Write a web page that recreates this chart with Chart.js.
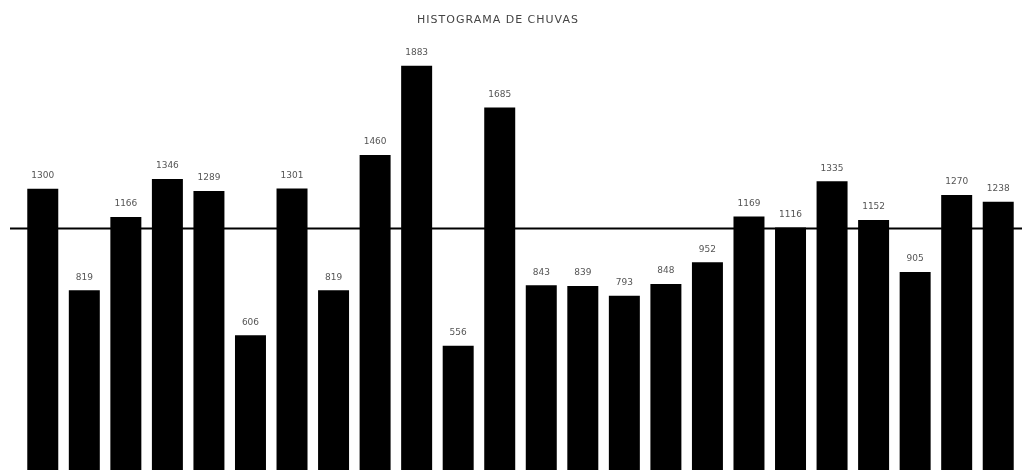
<!DOCTYPE html>
<html>
<head>
<meta charset="utf-8">
<script src="https://cdn.jsdelivr.net/npm/chart.js@4/dist/chart.umd.min.js"></script>
<style>
  html, body { margin: 0; padding: 0; background: #fff; }
  #wrap { width: 1022px; height: 470px; position: relative; }
</style>
</head>
<body>
<div id="wrap"><canvas id="chart"></canvas></div>
<script>
// rainfall per period
const categories = ['1','2','3','4','5','6','7','8','9','10','11','12',
                    '13','14','15','16','17','18','19','20','21','22','23','24'];
const rainfall = [1300, 819, 1166, 1346, 1289, 606, 1301, 819, 1460, 1883, 556, 1685,
                  843, 839, 793, 848, 952, 1169, 1116, 1335, 1152, 905, 1270, 1238];
const chartTitle = 'HISTOGRAMA DE CHUVAS';

const yMin = -33, yMax = 2024;

const mean = rainfall.reduce((a, b) => a + b, 0) / rainfall.length;

// title, value labels and the mean line
const extras = {
  id: 'extras',
  afterDatasetsDraw(chart) {
    const ctx = chart.ctx;
    const y = chart.scales.y.getPixelForValue(mean);
    ctx.save();
    ctx.strokeStyle = '#000';
    ctx.lineWidth = 2;
    ctx.beginPath();
    ctx.moveTo(chart.chartArea.left - 12, y);
    ctx.lineTo(chart.width, y);
    ctx.stroke();

    ctx.fillStyle = '#555';
    ctx.font = '9px "DejaVu Sans"';
    ctx.textAlign = 'center';
    ctx.textBaseline = 'middle';
    chart.getDatasetMeta(0).data.forEach((bar, i) => {
      ctx.fillText(String(rainfall[i]), bar.x, bar.y - 13);
    });

    ctx.fillStyle = '#444';
    ctx.font = '11px "DejaVu Sans"';
    if ('letterSpacing' in ctx) ctx.letterSpacing = '1px';
    ctx.fillText(chartTitle, 498, 20);
    ctx.restore();
  }
};

new Chart(document.getElementById('chart'), {
  type: 'bar',
  data: {
    labels: categories,
    datasets: [{
      data: rainfall,
      backgroundColor: '#000',
      borderWidth: 0,
      base: yMin,
      categoryPercentage: 1,
      barPercentage: 0.746
    }]
  },
  options: {
    responsive: true,
    maintainAspectRatio: false,
    animation: false,
    layout: { padding: { top: 36, left: 22, right: 3, bottom: 0 } },
    plugins: { legend: { display: false }, title: { display: false }, tooltip: { enabled: false } },
    scales: {
      x: { display: false },
      y: { display: false, min: yMin, max: yMax }
    }
  },
  plugins: [extras]
});
</script>
</body>
</html>
